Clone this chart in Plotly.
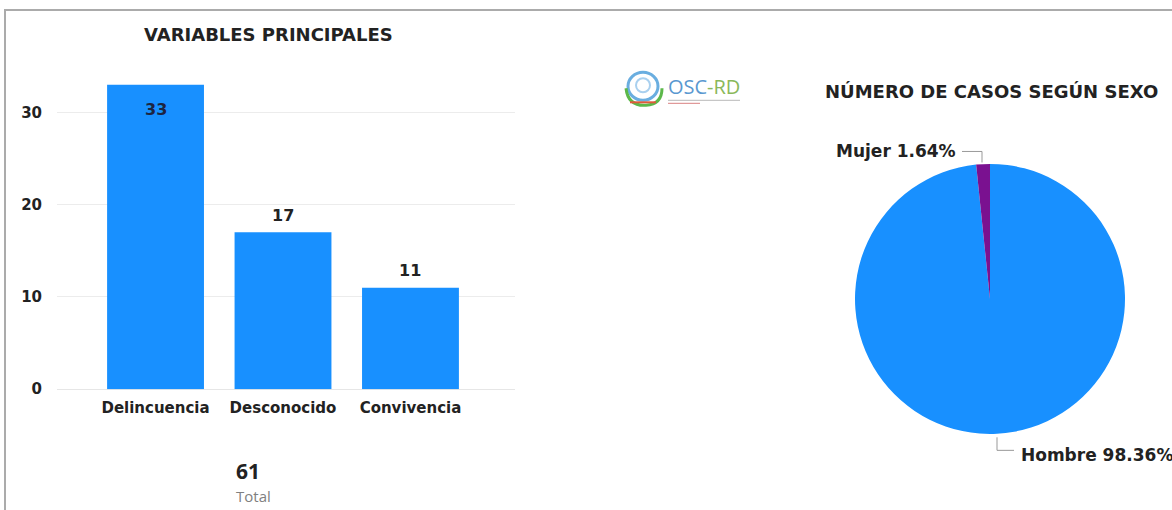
import plotly.graph_objects as go

# ---- data ----
categories = ["Delincuencia", "Desconocido", "Convivencia"]
case_counts = [33, 17, 11]
bar_text_inside = [True, False, False]
y_ticks = [0, 10, 20, 30]

sex_labels = ["Hombre", "Mujer"]
sex_counts = [60, 1]

total_cases = sum(case_counts)
W, H = 1172, 510
HE = 499.5  # effective rendered height used for vertical placement

BLUE = "#1890FF"
PURPLE = "#7A1190"
FONT = "DejaVu Sans"


def px(x):
    return x / W


def py(y):
    return 1 - y / HE


fig = go.Figure()

fig.add_trace(go.Bar(
    x=categories,
    y=case_counts,
    textposition="none",
    marker=dict(color=BLUE, line=dict(width=0)),
    width=0.76,
    hoverinfo="skip",
    showlegend=False,
))

fig.add_trace(go.Pie(
    labels=sex_labels,
    values=sex_counts,
    sort=False,
    direction="clockwise",
    rotation=0,
    marker=dict(colors=[BLUE, PURPLE], line=dict(width=0)),
    textinfo="none",
    hoverinfo="skip",
    showlegend=False,
    domain=dict(x=[px(855), px(1125)], y=[py(433), py(163)]),
))

fig.update_layout(
    width=W, height=H, autosize=False,
    margin=dict(l=0, r=0, t=0, b=0),
    paper_bgcolor="white",
    plot_bgcolor="white",
    xaxis=dict(
        domain=[px(57), px(515)],
        range=[-0.773, 2.82],
        showgrid=False, zeroline=False, showline=False,
        ticks="", ticklabelstandoff=8,
        tickfont=dict(family=FONT, size=15, color="#222222", weight="bold"),
    ),
    yaxis=dict(
        domain=[py(388), py(66)],
        range=[0, 35],
        tickvals=y_ticks,
        showgrid=True, gridcolor="#ececec", gridwidth=1,
        zeroline=True, zerolinecolor="#e6e6e6", zerolinewidth=1,
        showline=False, ticks="", ticklabelstandoff=14,
        tickfont=dict(family=FONT, size=15, color="#222222", weight="bold"),
    ),
)

annotations = [
    dict(text="<b>VARIABLES PRINCIPALES</b>", x=px(268), y=py(34),
         font=dict(family=FONT, size=18, color="#222222")),
    dict(text="<b>NÚMERO DE CASOS SEGÚN SEXO</b>", x=px(991), y=py(91),
         font=dict(family=FONT, size=18, color="#222222")),
    dict(text=f"<b>{total_cases}</b>", x=px(234), y=py(470), xanchor="left",
         font=dict(family="Open Sans", size=21, color="#222222")),
    dict(text="Total", x=px(234), y=py(495), xanchor="left",
         font=dict(family="Open Sans", size=15, color="#808080")),
]

# bar value labels, positioned on the bars through the axes
for cat, val, inside in zip(categories, case_counts, bar_text_inside):
    annotations.append(dict(
        text=f"<b>{val}</b>", x=cat, y=val, xref="x", yref="y",
        yshift=-25 if inside else 17,
        font=dict(family=FONT, size=16, color="#1d2440" if inside else "#222222"),
    ))

# pie labels built from the data
shares = [c / sum(sex_counts) * 100 for c in sex_counts]
pie_label_text = {l: f"<b>{l} {s:.2f}%</b>" for l, s in zip(sex_labels, shares)}
annotations.append(dict(text=pie_label_text["Mujer"], x=px(958), y=py(151), xanchor="right",
                        font=dict(family=FONT, size=17, color="#222222")))
annotations.append(dict(text=pie_label_text["Hombre"], x=px(1019), y=py(454), xanchor="left",
                        font=dict(family=FONT, size=17, color="#222222")))

# logo text
annotations.append(dict(text="OSC", x=px(666), y=py(86), xanchor="left",
                        font=dict(family="Open Sans", size=20, color="#5a98d0")))
annotations.append(dict(text="-RD", x=px(705), y=py(86), xanchor="left",
                        font=dict(family="Open Sans", size=20, color="#8ab85a")))

for a in annotations:
    a.setdefault("xref", "paper")
    a.setdefault("yref", "paper")
    a.setdefault("showarrow", False)
    a.setdefault("xanchor", "center")
    a.setdefault("yanchor", "middle")
fig.update_layout(annotations=annotations)

shapes = [
    # outer frame
    dict(type="line", x0=px(4), x1=px(1200), y0=py(10), y1=py(10),
         line=dict(color="#ababab", width=2)),
    dict(type="line", x0=px(5), x1=px(5), y0=py(10), y1=py(540),
         line=dict(color="#ababab", width=2)),
    # leader lines
    dict(type="path", path=f"M {px(962)},{py(151)} L {px(982)},{py(151)} L {px(982)},{py(162)}",
         line=dict(color="#999999", width=1)),
    dict(type="path", path=f"M {px(997)},{py(436)} L {px(997)},{py(449)} L {px(1014)},{py(449)}",
         line=dict(color="#999999", width=1)),
    # logo emblem
    dict(type="circle", x0=px(628), x1=px(658), y0=py(100), y1=py(72),
         line=dict(color="#6aaee0", width=3)),
    dict(type="circle", x0=px(636), x1=px(650), y0=py(92), y1=py(78),
         line=dict(color="#a9d0ef", width=2)),
    dict(type="path", path=f"M {px(626)},{py(88)} Q {px(628)},{py(106)} {px(646)},{py(105)} Q {px(662)},{py(104)} {px(662)},{py(88)}",
         line=dict(color="#5cb84a", width=3)),
    dict(type="line", x0=px(630), x1=px(656), y0=py(102), y1=py(102),
         line=dict(color="#e05a3a", width=2)),
    dict(type="line", x0=px(668), x1=px(740), y0=py(100), y1=py(100),
         line=dict(color="#b8b8b8", width=1)),
    dict(type="line", x0=px(668), x1=px(700), y0=py(103), y1=py(103),
         line=dict(color="#d98080", width=1)),
]
for s in shapes:
    s.setdefault("xref", "paper")
    s.setdefault("yref", "paper")
fig.update_layout(shapes=shapes)

fig.write_html(
    "out.html",
    config={"displayModeBar": False, "responsive": False},
    post_script="document.body.style.margin='0px';document.body.style.overflow='hidden';",
)
